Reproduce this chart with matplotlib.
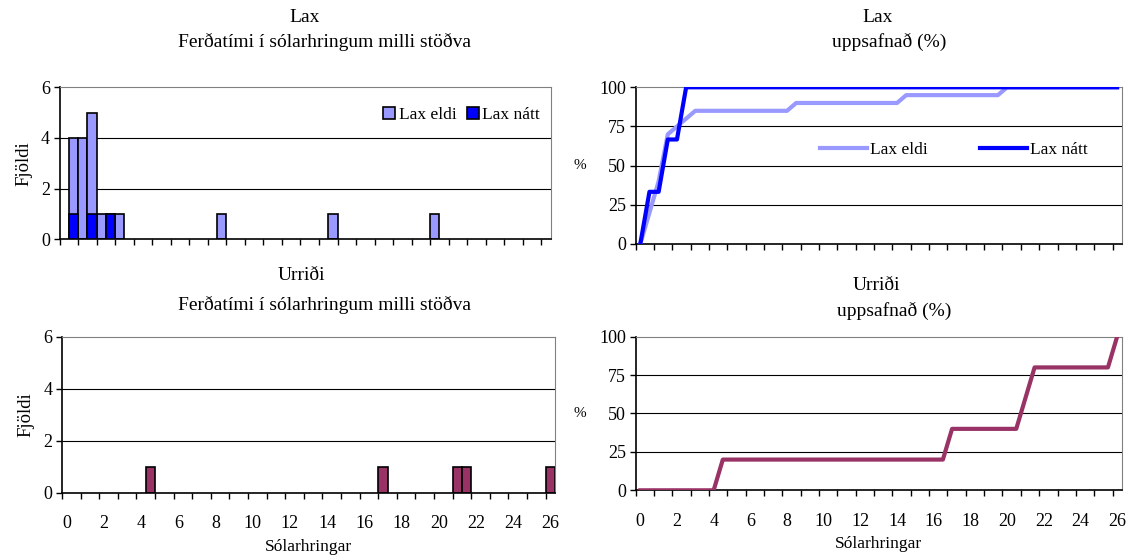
import matplotlib
matplotlib.use("Agg")
import matplotlib.pyplot as plt
import numpy as np

plt.rcParams['font.family'] = ['Liberation Serif', 'DejaVu Serif']

# categories on the x axis (days, half-day steps)
days = np.arange(0, 26.5, 0.5)
tick_days = [0, 2, 4, 6, 8, 10, 12, 14, 16, 18, 20, 22, 24, 26]

# histogram counts (only non-zero categories)
lax_eldi_days = [0.5, 1.0, 1.5, 2.0, 2.5, 3.0, 8.5, 14.5, 20.0]
lax_eldi_count = [4, 4, 5, 1, 1, 1, 1, 1, 1]
lax_natt_days = [0.5, 1.5, 2.5]
lax_natt_count = [1, 1, 1]
urridi_days = [4.5, 17.0, 21.0, 21.5, 26.0]
urridi_count = [1, 1, 1, 1, 1]

# cumulative percent (vertices of the line)
cum_eldi_days = [0, 0.5, 1.0, 1.5, 2.0, 2.5, 3.0, 8.0, 8.5, 14.0, 14.5, 19.5, 20.0, 26.0]
cum_eldi_pct = [0, 20, 40, 70, 75, 80, 85, 85, 90, 90, 95, 95, 100, 100]
cum_natt_days = [0, 0.5, 1.0, 1.5, 2.0, 2.5, 26.0]
cum_natt_pct = [0, 33.3, 33.3, 66.7, 66.7, 100, 100]
cum_urr_days = [0, 4.0, 4.5, 16.5, 17.0, 20.5, 21.0, 21.5, 25.5, 26.0]
cum_urr_pct = [0, 0, 20, 20, 40, 40, 60, 80, 80, 100]

c_eldi = '#9999FF'
c_natt = '#0000FF'
c_urr = '#993366'

W, H = 1128, 557
fig = plt.figure(figsize=(W / 100, H / 100), dpi=100)


def px_axes(left, top, right, bottom):
    return fig.add_axes([left / W, 1 - bottom / H, (right - left) / W, (bottom - top) / H])


def style(ax, yticks, show_labels):
    step = days[1] - days[0]
    ax.set_xlim(days[0] - step / 2, days[-1] + step / 2)
    ax.set_ylim(yticks[0], yticks[-1])
    ax.set_yticks(yticks)
    for y in yticks[1:-1]:
        ax.axhline(y, color='black', lw=0.8, zorder=1)
    # labels on the major ticks, tick marks on the minor ones
    ax.set_xticks(tick_days)
    ax.set_xticklabels([str(t) for t in tick_days] if show_labels else [])
    ax.set_xticks(np.arange(days[0] - step / 2, days[-1], 2 * step), minor=True)
    ax.tick_params(axis='x', which='major', length=0, labelsize=13, pad=16)
    ax.tick_params(axis='x', which='minor', length=4, width=1, direction='out')
    ax.tick_params(axis='y', length=4, width=1, direction='out', labelsize=13, pad=3)
    ax.spines['top'].set_color('#808080')
    ax.spines['right'].set_color('#808080')
    ax.spines['left'].set_linewidth(1.2)
    ax.spines['bottom'].set_linewidth(1.2)


# top left: Lax histogram
ax1 = px_axes(59.6, 87.3, 550.6, 239.3)
ax1.bar(lax_eldi_days, lax_eldi_count, width=0.5, color=c_eldi, edgecolor='black', lw=1.2, zorder=2, label='Lax eldi')
ax1.bar(lax_natt_days, lax_natt_count, width=0.5, color=c_natt, edgecolor='black', lw=1.2, zorder=3, label='Lax nátt')
style(ax1, [0, 2, 4, 6], False)
ax1.set_ylabel('Fjöldi', fontsize=13.5, labelpad=6)
ax1.legend(loc='upper right', bbox_to_anchor=(1.0, 0.94), ncol=2, frameon=False, fontsize=12.5,
           handlelength=0.7, handleheight=0.7, handletextpad=0.2, columnspacing=0.6, borderaxespad=0.2)

# bottom left: Urriði histogram
ax2 = px_axes(62, 336.7, 555, 492.7)
ax2.bar(urridi_days, urridi_count, width=0.5, color=c_urr, edgecolor='black', lw=1.2, zorder=2)
style(ax2, [0, 2, 4, 6], True)
ax2.set_ylabel('Fjöldi', fontsize=13.5, labelpad=6)
ax2.set_xlabel('Sólarhringar', fontsize=12.5, labelpad=5)

# top right: Lax cumulative
ax3 = px_axes(635.7, 87.3, 1121.7, 244)
ax3.plot(cum_eldi_days, cum_eldi_pct, color=c_eldi, lw=3, zorder=3, label='Lax eldi')
ax3.plot(cum_natt_days, cum_natt_pct, color=c_natt, lw=3, zorder=4, label='Lax nátt')
style(ax3, [0, 25, 50, 75, 100], False)
ax3.set_ylabel('%', fontsize=11, rotation=0, labelpad=14, va='center')
ax3.legend(loc='center', bbox_to_anchor=(0.655, 0.6), ncol=2, frameon=False, fontsize=12.5,
           handlelength=2.7, handletextpad=0.2, columnspacing=3.0)

# bottom right: Urriði cumulative
ax4 = px_axes(635.7, 336.7, 1121.7, 490.3)
ax4.plot(cum_urr_days, cum_urr_pct, color=c_urr, lw=3, zorder=3)
style(ax4, [0, 25, 50, 75, 100], True)
ax4.set_ylabel('%', fontsize=11, rotation=0, labelpad=14, va='center')
ax4.set_xlabel('Sólarhringar', fontsize=12.5, labelpad=5)

# titles
tkw = dict(ha='center', va='center', fontsize=14)
fig.text(305 / W, 1 - 17 / H, 'Lax', **tkw)
fig.text(324 / W, 1 - 42 / H, 'Ferðatími í sólarhringum milli stöðva', **tkw)
fig.text(878 / W, 1 - 17 / H, 'Lax', **tkw)
fig.text(889 / W, 1 - 42 / H, 'uppsafnað (%)', **tkw)
fig.text(301 / W, 1 - 276 / H, 'Urriði', **tkw)
fig.text(324 / W, 1 - 305 / H, 'Ferðatími í sólarhringum milli stöðva', **tkw)
fig.text(876 / W, 1 - 285 / H, 'Urriði', **tkw)
fig.text(894 / W, 1 - 311 / H, 'uppsafnað (%)', **tkw)

fig.savefig('out.png', dpi=100)
